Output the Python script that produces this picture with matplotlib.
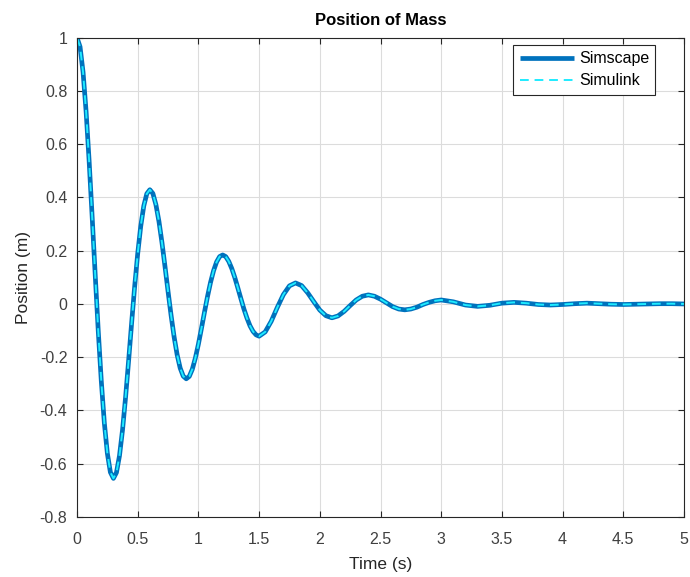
import numpy as np
import matplotlib.pyplot as plt

# time samples (s) and mass position (m)
time = [0.000, 0.025, 0.050, 0.075, 0.100, 0.125, 0.150, 0.175, 0.200, 0.225,
        0.250, 0.275, 0.300, 0.325, 0.350, 0.375, 0.400, 0.425, 0.450, 0.475,
        0.500, 0.525, 0.550, 0.575, 0.600, 0.625, 0.650, 0.675, 0.700, 0.725,
        0.750, 0.775, 0.800, 0.825, 0.850, 0.875, 0.900, 0.925, 0.950, 0.975,
        1.000, 1.025, 1.050, 1.075, 1.100, 1.125, 1.150, 1.175, 1.200, 1.225,
        1.250, 1.275, 1.300, 1.325, 1.350, 1.375, 1.400, 1.425, 1.450, 1.475,
        1.500, 1.550, 1.600, 1.650, 1.700, 1.750, 1.800, 1.850, 1.900, 1.950,
        2.000, 2.050, 2.100, 2.150, 2.200, 2.250, 2.300, 2.350, 2.400, 2.450,
        2.500, 2.550, 2.600, 2.650, 2.700, 2.750, 2.800, 2.850, 2.900, 2.950,
        3.000, 3.100, 3.200, 3.300, 3.400, 3.500, 3.600, 3.700, 3.800, 3.900,
        4.000, 4.100, 4.200, 4.300, 4.400, 4.500, 4.600, 4.700, 4.800, 4.900,
        5.000]
position = [1.000, 0.966, 0.870, 0.722, 0.536, 0.326, 0.109, -0.101, -0.289, -0.446,
            -0.561, -0.632, -0.655, -0.633, -0.570, -0.473, -0.351, -0.214, -0.071, 0.066,
            0.189, 0.292, 0.368, 0.414, 0.429, 0.415, 0.373, 0.310, 0.230, 0.140,
            0.047, -0.043, -0.124, -0.191, -0.241, -0.271, -0.281, -0.272, -0.245, -0.203,
            -0.151, -0.092, -0.031, 0.028, 0.081, 0.125, 0.158, 0.178, 0.184, 0.178,
            0.160, 0.133, 0.099, 0.060, 0.020, -0.019, -0.053, -0.082, -0.103, -0.116,
            -0.121, -0.105, -0.065, -0.013, 0.035, 0.068, 0.079, 0.069, 0.042, 0.009,
            -0.023, -0.044, -0.052, -0.045, -0.028, -0.006, 0.015, 0.029, 0.034, 0.029,
            0.018, 0.004, -0.010, -0.019, -0.022, -0.019, -0.012, -0.002, 0.006, 0.012,
            0.015, 0.008, -0.004, -0.009, -0.005, 0.003, 0.006, 0.003, -0.002, -0.004,
            -0.002, 0.001, 0.003, 0.001, -0.001, -0.002, -0.001, 0.000, 0.001, 0.001,
            0.000]

xticks = [0, 0.5, 1, 1.5, 2, 2.5, 3, 3.5, 4, 4.5, 5]
xtick_labels = ['0', '0.5', '1', '1.5', '2', '2.5', '3', '3.5', '4', '4.5', '5']
yticks = [-0.8, -0.6, -0.4, -0.2, 0, 0.2, 0.4, 0.6, 0.8, 1]
ytick_labels = ['-0.8', '-0.6', '-0.4', '-0.2', '0', '0.2', '0.4', '0.6', '0.8', '1']

plt.rcParams['font.family'] = ['Liberation Sans', 'DejaVu Sans']

fig = plt.figure(figsize=(6.9, 5.77), dpi=100)
ax = fig.add_axes([0.1116, 0.104, 0.8797, 0.8307])

ax.plot(time, position, color='#0072BD', linewidth=3.4, label='Simscape',
        solid_capstyle='butt', solid_joinstyle='round')
ax.plot(time, position, color='#1EEBFF', linewidth=1.4, linestyle=(0, (4.5, 3)),
        label='Simulink')

ax.set_xlim(0, 5)
ax.set_ylim(-0.8, 1)
ax.set_xticks(xticks)
ax.set_yticks(yticks)
ax.set_xticklabels(xtick_labels)
ax.set_yticklabels(ytick_labels)

ax.grid(True, color='#dcdcdc', linewidth=0.8)
ax.set_axisbelow(True)
ax.tick_params(direction='in', length=4, width=0.8, colors='#262626',
               labelcolor='#404040', labelsize=11.5,
               top=True, right=True, labeltop=False, labelright=False)
ax.tick_params(axis='x', pad=11)
ax.tick_params(axis='y', pad=7)
for side in ax.spines.values():
    side.set_color('#262626')
    side.set_linewidth(0.8)

ax.set_xlabel('Time (s)', fontsize=12.5, color='#262626', labelpad=7)
ax.set_ylabel('Position (m)', fontsize=12.5, color='#262626', labelpad=6)
ax.set_title('Position of Mass', fontsize=12, fontweight='bold', pad=9)

leg = ax.legend(loc='upper right', bbox_to_anchor=(0.953, 0.985), fontsize=11.5,
                fancybox=False, framealpha=1, edgecolor='#262626',
                handlelength=3.4, handletextpad=0.3, borderpad=0.4,
                labelspacing=0.45, borderaxespad=0)
leg.get_frame().set_linewidth(0.8)

fig.savefig('out.png', dpi=100)
